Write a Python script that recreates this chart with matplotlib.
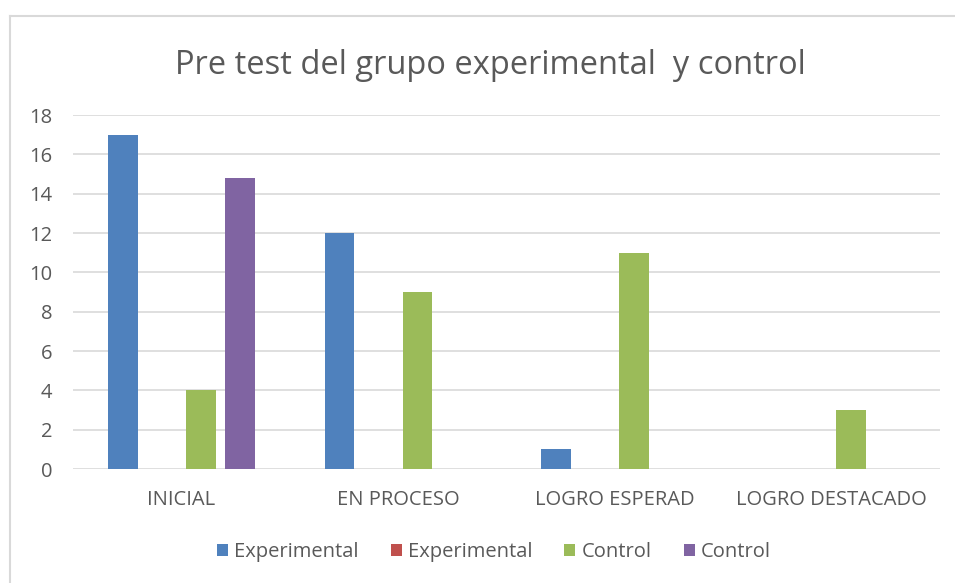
import numpy as np
import matplotlib.pyplot as plt
from matplotlib.lines import Line2D

categories = ['INICIAL', 'EN PROCESO', 'LOGRO ESPERAD', 'LOGRO DESTACADO']
series_names = ['Experimental', 'Experimental', 'Control', 'Control']
experimental_1 = [17, 12, 1, 0]
experimental_2 = [0, 0, 0, 0]
control_1 = [4, 9, 11, 3]
control_2 = [14.8, 0, 0, 0]
colors = ['#4F81BD', '#C0504D', '#9BBB59', '#8064A2']

plt.rcParams['font.family'] = ['Open Sans', 'DejaVu Sans']
text_color = '#595959'

fig = plt.figure(figsize=(9.55, 5.83), dpi=100)
ax = fig.add_axes([0.0764, 0.1955, 0.9076, 0.6072])

x = np.arange(len(categories))
slot = 0.18
width = 0.138
all_series = [experimental_1, experimental_2, control_1, control_2]
for i, vals in enumerate(all_series):
    offset = (i - 1.5) * slot
    ax.bar(x + offset, vals, width, color=colors[i], label=series_names[i], zorder=3)

ax.set_xlim(-0.5, len(categories) - 0.5)
ax.set_ylim(0, 18)
ax.set_yticks(range(0, 19, 2))
ax.set_xticks(x)
ax.set_xticklabels(categories)
ax.yaxis.grid(True, color='#D9D9D9', linewidth=1.2, zorder=0)
for s in ax.spines.values():
    s.set_visible(False)
ax.tick_params(axis='both', length=0, labelsize=14.5, colors=text_color)
ax.tick_params(axis='x', pad=15)
ax.tick_params(axis='y', pad=15)

fig.text(0.513, 0.888, 'Pre test del grupo experimental  y control', ha='center', va='center',
         fontsize=23.5, color=text_color)

# outer chart border (only top and left visible)
fig.add_artist(Line2D([9.5 / 955, 1], [1 - 15.5 / 583] * 2, color='#D9D9D9', linewidth=1.5,
                      transform=fig.transFigure))
fig.add_artist(Line2D([9.5 / 955] * 2, [0, 1 - 15.5 / 583], color='#D9D9D9', linewidth=1.5,
                      transform=fig.transFigure))

leg = fig.legend(loc='center', bbox_to_anchor=(0.517, 1 - 552 / 583), ncol=4, frameon=False,
                 fontsize=14.5, handlelength=0.55, handleheight=0.55, handletextpad=0.3,
                 columnspacing=1.6)
for t in leg.get_texts():
    t.set_color(text_color)

fig.savefig('out.png', dpi=100)
